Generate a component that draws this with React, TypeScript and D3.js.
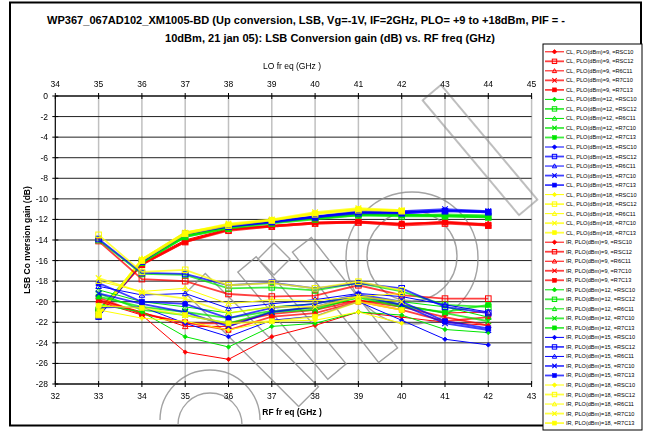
import React from 'react';
import * as d3 from 'd3';

const W = 645;
const H = 435;

// RF frequency (GHz) of each measured point
const RF_FREQ = [33, 34, 35, 36, 37, 38, 39, 40, 41, 42];
const RF_TICKS = [32, 33, 34, 35, 36, 37, 38, 39, 40, 41, 42, 43];
const LO_TICKS = [34, 35, 36, 37, 38, 39, 40, 41, 42, 43, 44, 45];
const GAIN_TICKS = [0, -2, -4, -6, -8, -10, -12, -14, -16, -18, -20, -22, -24, -26, -28];

const PLO = [9, 12, 15, 18];
const PLO_COLORS = ['#ff0000', '#00e600', '#0000ff', '#ffff00'];
const DEVICES = ['RSC10', 'RSC12', 'R6C11', 'R7C10', 'R7C13'];

type V = number | null;

// CL gain (dB), one row per device, per PLO
const CL_9: V[][] = [
  [-21.2, -16.3, -14.1, -13.0, -12.6, -12.3, -12.2, -12.5, -12.3, -12.5],
  [-21.0, -16.4, -14.2, -13.1, -12.7, -12.4, -12.3, -12.6, -12.4, -12.6],
  [-21.3, -16.2, -14.0, -12.9, -12.6, -12.3, -12.2, -12.4, -12.3, -12.4],
  [-21.1, -16.3, -14.1, -13.0, -12.7, -12.4, -12.3, -12.5, -12.2, -12.5],
  [-21.2, -16.4, -14.2, -13.0, -12.6, -12.3, -12.2, -12.4, -12.3, -12.6],
];
const CL_12: V[][] = [
  [-21.0, -16.1, -13.6, -12.8, -12.3, -11.9, -11.5, -11.6, -11.6, -11.7],
  [-20.8, -16.2, -13.7, -12.9, -12.4, -12.0, -11.6, -11.7, -11.7, -11.8],
  [-21.1, -16.0, -13.5, -12.8, -12.3, -11.9, -11.5, -11.5, -11.6, -11.7],
  [-20.9, -16.1, -13.6, -12.7, -12.2, -11.8, -11.4, -11.6, -11.5, -11.6],
  [-21.0, -16.2, -13.7, -12.8, -12.3, -11.9, -11.6, -11.6, -11.7, -11.8],
];
const CL_15: V[][] = [
  [-21.5, -16.0, -13.3, -12.6, -12.2, -11.7, -11.3, -11.3, -11.1, -11.25],
  [-21.4, -16.1, -13.4, -12.7, -12.2, -11.8, -11.4, -11.4, -11.2, -11.3],
  [-21.5, -15.9, -13.3, -12.6, -12.1, -11.7, -11.3, -11.3, -11.1, -11.2],
  [-21.3, -16.0, -13.4, -12.6, -12.2, -11.7, -11.2, -11.2, -11.0, -11.2],
  [-21.4, -16.1, -13.3, -12.7, -12.3, -11.8, -11.3, -11.4, -11.2, -11.3],
];
const CL_18: V[][] = [
  [-21.2, -15.9, -13.3, -12.5, -12.05, -11.4, -11.0, -11.15, null, null],
  [-21.3, -16.0, -13.4, -12.6, -12.1, -11.5, -11.1, -11.2, null, null],
  [-21.1, -15.8, -13.2, -12.5, -12.0, -11.4, -11.0, -11.1, null, null],
  [-21.2, -15.9, -13.3, -12.4, -12.0, -11.3, -10.9, -11.1, null, null],
  [-21.3, -16.0, -13.4, -12.5, -12.1, -11.4, -11.0, -11.2, null, null],
];

// IR gain (dB)
const IR_9: V[][] = [
  [-20.0, -21.3, -24.9, -25.6, -23.4, -22.3, -21.0, -21.5, -22.0, -22.3],
  [-14.1, -17.8, -18.0, -19.25, -19.5, -19.4, -18.4, -19.35, -19.7, -19.7],
  [-19.8, -21.0, -22.4, -22.4, -21.0, -20.5, -19.85, -20.3, -21.1, -21.0],
  [-19.9, -21.1, -22.1, -22.1, -21.2, -20.8, -19.9, -20.5, -21.5, -22.3],
  [-19.6, -21.2, -22.0, -22.75, -21.45, -21.1, -20.0, -20.8, -21.9, -21.5],
];
const IR_12: V[][] = [
  [-20.3, -21.0, -23.4, -24.4, -22.4, -22.1, -21.0, -21.3, -22.7, -23.0],
  [-14.0, -17.3, -17.4, -18.7, -18.6, -18.9, -18.2, -19.0, -20.3, -20.5],
  [-18.85, -20.0, -20.5, -21.1, -20.5, -20.2, -19.5, -20.0, -20.5, -21.5],
  [-19.2, -20.8, -21.3, -22.1, -21.0, -20.8, -19.5, -20.3, -21.1, -21.9],
  [-19.5, -20.5, -21.0, -21.6, -20.9, -20.6, -19.6, -20.5, -21.0, -20.3],
];
const IR_15: V[][] = [
  [-20.6, -20.5, -22.1, -23.4, -21.8, -21.4, -20.0, -21.8, -23.65, -24.2],
  [-13.9, -17.2, -17.3, -18.4, -18.15, -18.7, -18.2, -18.7, -20.5, -21.1],
  [-18.5, -19.35, -19.2, -20.65, -20.2, -19.8, -19.2, -19.5, -20.3, -21.0],
  [-19.2, -20.2, -21.0, -22.4, -21.0, -20.5, -19.4, -20.3, -22.1, -22.75],
  [-18.2, -20.0, -20.2, -21.6, -20.6, -20.2, -19.3, -20.0, -21.9, -22.6],
];
const IR_18: V[][] = [
  [-20.8, -21.6, -21.9, -22.75, -21.9, -21.8, -21.0, -22.1, null, null],
  [-13.5, -17.1, -16.9, -18.4, -18.2, -18.7, -18.05, -18.9, null, null],
  [-18.0, -19.0, -18.7, -20.2, -19.8, -19.9, -19.5, -19.2, null, null],
  [-17.7, -19.1, -19.7, -21.1, -20.5, -20.5, -19.5, -20.0, null, null],
  [-20.4, -20.6, -21.3, -22.1, -21.9, -21.45, -20.0, -20.8, null, null],
];

const CL_DATA = [CL_9, CL_12, CL_15, CL_18];
const IR_DATA = [IR_9, IR_12, IR_15, IR_18];

const TITLE_1 = 'WP367_067AD102_XM1005-BD (Up conversion, LSB, Vg=-1V,  IF=2GHz, PLO=  +9 to +18dBm, PIF =  -';
const TITLE_2 = '10dBm, 21 jan 05): LSB Conversion gain (dB) vs. RF freq (GHz)';

const FONT = "'Liberation Sans', Arial, sans-serif";

interface Series {
  label: string;
  color: string;
  device: string;
  values: V[];
}

const series: Series[] = [];
(['CL', 'IR'] as const).forEach(kind => {
  const src = kind === 'CL' ? CL_DATA : IR_DATA;
  PLO.forEach((p, pi) => {
    DEVICES.forEach((dev, di) => {
      series.push({
        label: `${kind}, PLO(dBm)=${p}, =${dev}`,
        color: PLO_COLORS[pi],
        device: dev,
        values: src[pi][di],
      });
    });
  });
});

// thin dark line vs. lighter thicker line, as in the legend
const heavy = (dev: string) => dev === 'RSC12' || dev === 'R7C10' || dev === 'R7C13';

const Marker: React.FC<{ dev: string; x: number; y: number; color: string; s?: number }> = ({ dev, x, y, color, s = 2.6 }) => {
  switch (dev) {
    case 'RSC10':
      return <path d={`M${x},${y - s}L${x + s},${y}L${x},${y + s}L${x - s},${y}Z`} fill={color} stroke={color} strokeWidth={0.8} />;
    case 'RSC12':
      return <rect x={x - s} y={y - s} width={2 * s} height={2 * s} fill="none" stroke={color} strokeWidth={1} />;
    case 'R6C11':
      return <path d={`M${x},${y - s}L${x + s},${y + s * 0.8}L${x - s},${y + s * 0.8}Z`} fill="none" stroke={color} strokeWidth={1} />;
    case 'R7C10':
      return <path d={`M${x - s},${y - s}L${x + s},${y + s}M${x + s},${y - s}L${x - s},${y + s}`} stroke={color} strokeWidth={1.1} />;
    default:
      return <rect x={x - s * 0.9} y={y - s * 0.9} width={1.8 * s} height={1.8 * s} fill={color} stroke={color} strokeWidth={0.6} />;
  }
};

export default function App() {
  const left = 55.3, right = 531.6, top = 96, bottom = 384;
  const x = d3.scaleLinear().domain([32, 43]).range([left, right]);
  const xLo = d3.scaleLinear().domain([34, 45]).range([left, right]);
  const y = d3.scaleLinear().domain([0, -28]).range([top, bottom]);

  const line = d3.line<[number, V]>()
    .defined(d => d[1] != null)
    .x(d => x(d[0]))
    .y(d => y(d[1] as number));

  const legX = 543, legY = 44, legW = 99, legH = 386;
  const rowY = (i: number) => 51.8 + i * 9.52;

  return (
    <svg width={W} height={H} style={{ position: 'absolute', left: 0, top: 0, background: '#fff' }} fontFamily={FONT}>
      <rect x={0} y={0} width={W} height={H} fill="#fff" />
      {/* outer frame */}
      <rect x={10} y={2.5} width={631} height={423} fill="none" stroke="#000" strokeWidth={2} />

      {/* title */}
      <text x={306} y={24} textAnchor="middle" fontSize={11} fontWeight="bold" textLength={518} lengthAdjust="spacingAndGlyphs">{TITLE_1}</text>
      <text x={330} y={42} textAnchor="middle" fontSize={11} fontWeight="bold" textLength={330} lengthAdjust="spacingAndGlyphs">{TITLE_2}</text>

      {/* vertical grid */}
      {RF_TICKS.slice(1).map(t => (
        <line key={'vg' + t} x1={x(t)} x2={x(t)} y1={top} y2={bottom} stroke="#c0c0c0" strokeWidth={1.5} />
      ))}
      {/* horizontal grid */}
      {GAIN_TICKS.map(t => (
        <line key={'hg' + t} x1={left} x2={right} y1={y(t)} y2={y(t)} stroke="#222" strokeWidth={1} />
      ))}

      {/* watermark */}
      <g fill="none" stroke="#8c8c8c" strokeWidth={1.4} opacity={0.8}>
        <path d="M274,243L290,259L274,275L258,259Z" />
        <rect x={-14} y={-80} width={28} height={160} transform="translate(252,340) rotate(-45)" />
        <rect x={-12} y={-70} width={24} height={140} transform="translate(292,318) rotate(-40)" />
        <rect x={-12} y={-75} width={24} height={150} transform="translate(480,150) rotate(-40)" />
        <rect x={-12} y={-70} width={24} height={140} transform="translate(345,300) rotate(-38)" />
        <ellipse cx={412} cy={258} rx={66} ry={66} />
        <ellipse cx={412} cy={256} rx={45} ry={45} />
        <path d="M160,420A50,50 0 0 1 260,420" />
        <path d="M178,425A32,32 0 0 1 242,425" />
      </g>

      {/* series */}
      {series.map((s, i) => {
        const pts = RF_FREQ.map((f, k) => [f, s.values[k]] as [number, V]);
        const hv = heavy(s.device);
        return (
          <g key={'s' + i}>
            <path d={line(pts) || ''} fill="none" stroke={s.color} strokeWidth={hv ? 1.8 : 1} strokeOpacity={hv ? 0.75 : 1} />
            {pts.filter(p => p[1] != null).map((p, k) => (
              <Marker key={k} dev={s.device} x={x(p[0])} y={y(p[1] as number)} color={s.color} s={s.device === 'RSC10' ? 2.2 : 2.8} />
            ))}
          </g>
        );
      })}

      {/* axes */}
      <line x1={left} x2={left} y1={top} y2={bottom} stroke="#000" strokeWidth={1.2} />
      <line x1={left} x2={right} y1={bottom} y2={bottom} stroke="#000" strokeWidth={1.2} />
      <line x1={left} x2={right} y1={top} y2={top} stroke="#000" strokeWidth={1.2} />
      {GAIN_TICKS.map(t => (
        <g key={'yt' + t}>
          <line x1={left - 3} x2={left + 3} y1={y(t)} y2={y(t)} stroke="#000" />
          <text x={48} y={y(t) + 3} textAnchor="end" fontSize={8.5}>{t}</text>
        </g>
      ))}
      {RF_TICKS.map(t => (
        <g key={'xt' + t}>
          <line x1={x(t)} x2={x(t)} y1={bottom - 3} y2={bottom + 3} stroke="#000" />
          <text x={x(t)} y={bottom + 15} textAnchor="middle" fontSize={8.5}>{t}</text>
        </g>
      ))}
      {LO_TICKS.map(t => (
        <g key={'lt' + t}>
          <line x1={xLo(t)} x2={xLo(t)} y1={top - 3} y2={top + 3} stroke="#000" />
          <text x={xLo(t)} y={top - 9} textAnchor="middle" fontSize={8.5}>{t}</text>
        </g>
      ))}
      <text x={292} y={69} textAnchor="middle" fontSize={8.5}>LO fr eq (GHz )</text>
      <text x={292} y={415} textAnchor="middle" fontSize={8.5} fontWeight="bold">RF fr eq (GHz )</text>
      <text transform={`translate(30,${(top + bottom) / 2}) rotate(-90)`} textAnchor="middle" fontSize={8.5} fontWeight="bold">LSB Co nversion gain (dB)</text>

      {/* legend */}
      <rect x={legX} y={legY} width={legW} height={legH} fill="#fff" stroke="#000" strokeWidth={1} />
      {series.map((s, i) => {
        const yy = rowY(i);
        const hv = heavy(s.device);
        return (
          <g key={'lg' + i}>
            <line x1={legX + 2} x2={legX + 21} y1={yy} y2={yy} stroke={s.color} strokeWidth={hv ? 1.8 : 1} strokeOpacity={hv ? 0.75 : 1} />
            <Marker dev={s.device} x={legX + 11.5} y={yy} color={s.color} s={2.2} />
            <text x={legX + 23} y={yy + 2} fontSize={5.6}>{s.label}</text>
          </g>
        );
      })}
    </svg>
  );
}
